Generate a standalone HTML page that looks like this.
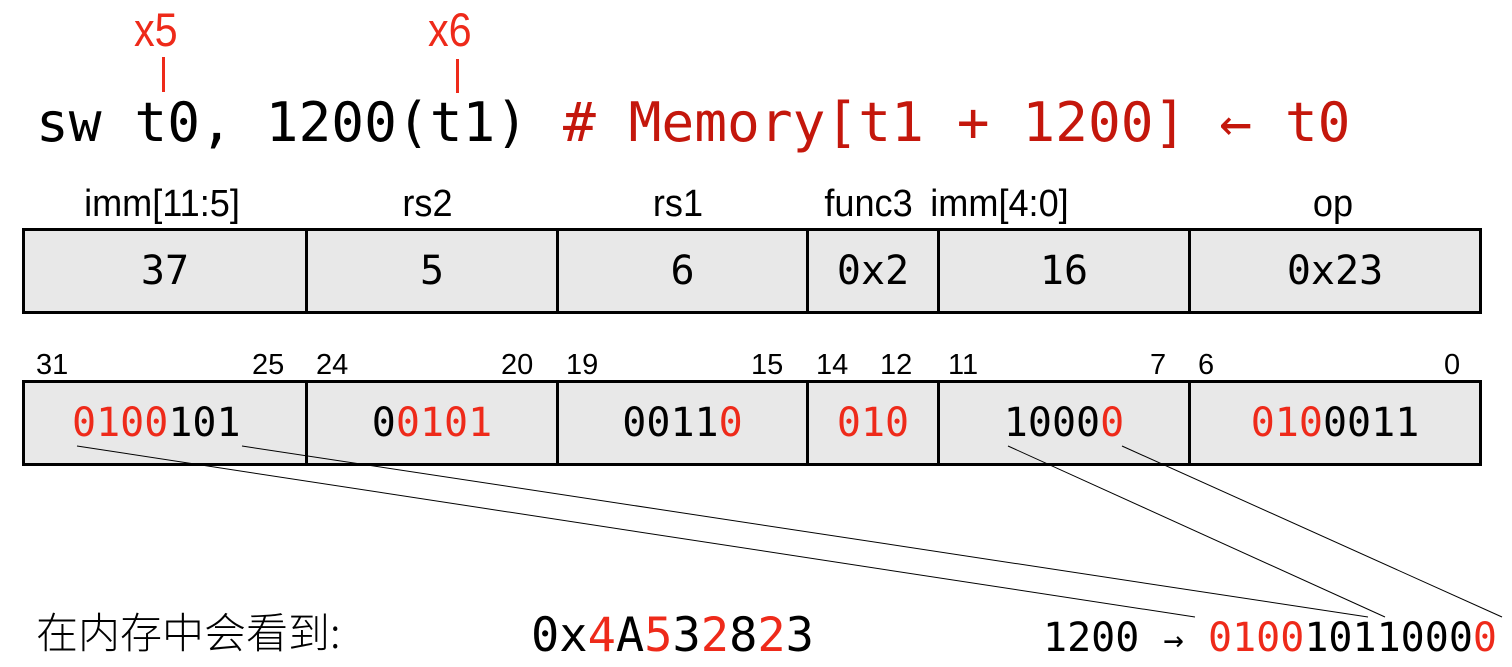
<!DOCTYPE html>
<html><head><meta charset="utf-8"><style>
body{margin:0;width:1512px;height:667px;background:#fff;position:relative;overflow:hidden;font-family:"Liberation Sans","Noto Sans CJK SC",sans-serif}
.a{position:absolute;white-space:nowrap;line-height:1}
.m{font-family:"DejaVu Sans Mono","Liberation Mono",monospace}
.r{color:#ee2a1a}
.dr{color:#c4170c}
.tbl{position:absolute;left:22px;width:1460px;height:86px;box-sizing:border-box;border:3px solid #000;background:#e8e8e8;display:flex}
.tbl div{box-sizing:border-box;border-left:3px solid #000;display:flex;align-items:center;justify-content:center;font-family:"DejaVu Sans Mono","Liberation Mono",monospace;font-size:40px}
.tbl div:first-child{border-left:none}
.h{position:absolute;top:183px;font-size:38px;text-align:center;transform:scaleX(0.95)}
.n{position:absolute;top:349px;font-size:29px}
</style></head><body>
<div class="a r" style="left:134px;top:6px;font-size:47px;transform:scaleX(.88);transform-origin:left">x5</div>
<div class="a r" style="left:428px;top:6px;font-size:47px;transform:scaleX(.88);transform-origin:left">x6</div>
<div class="a" style="left:162px;top:57px;width:3px;height:35px;background:#ee2a1a"></div>
<div class="a" style="left:456px;top:59px;width:3px;height:34px;background:#ee2a1a"></div>
<div class="a m" style="left:36px;top:95px;font-size:54.5px">sw t0, 1200(t1)</div>
<div class="a m dr" style="left:563px;top:95px;font-size:54.5px">#&nbsp;Memory[t1 + 1200] ← t0</div>

<div class="h" style="left:22px;width:280px">imm[11:5]</div>
<div class="h" style="left:302px;width:251px">rs2</div>
<div class="h" style="left:553px;width:250px">rs1</div>
<div class="h" style="left:803px;width:131px">func3</div>
<div class="h" style="left:934px;width:251px;transform:translateX(-60px) scaleX(.95)">imm[4:0]</div>
<div class="h" style="left:1185px;width:296px">op</div>

<div class="tbl" style="top:228px">
<div style="width:280px">37</div><div style="width:251px">5</div><div style="width:250px">6</div><div style="width:131px">0x2</div><div style="width:251px">16</div><div style="flex:1">0x23</div>
</div>

<div class="n" style="left:36px">31</div><div class="n" style="left:252px">25</div>
<div class="n" style="left:316px">24</div><div class="n" style="left:501px">20</div>
<div class="n" style="left:566px">19</div><div class="n" style="left:751px">15</div>
<div class="n" style="left:816px">14</div><div class="n" style="left:880px">12</div>
<div class="n" style="left:948px">11</div><div class="n" style="left:1150px">7</div>
<div class="n" style="left:1198px">6</div><div class="n" style="left:1444px">0</div>

<div class="tbl" style="top:380px">
<div style="width:280px;justify-content:flex-start;padding-left:47px"><span class="r">0100</span>101</div>
<div style="width:251px">0<span class="r">0101</span></div>
<div style="width:250px">0011<span class="r">0</span></div>
<div style="width:131px"><span class="r">010</span></div>
<div style="width:251px">1000<span class="r">0</span></div>
<div style="flex:1"><span class="r">010</span>0011</div>
</div>

<svg class="a" style="left:0;top:0" width="1512" height="667">
<g stroke="#000" stroke-width="1" fill="none">
<line x1="77" y1="446" x2="1195" y2="617"/>
<line x1="242" y1="446" x2="1368" y2="617"/>
<line x1="1008" y1="446" x2="1385" y2="617"/>
<line x1="1122" y1="446" x2="1502" y2="617"/>
</g>
</svg>

<div class="a" style="left:36px;top:610px;font-size:42px;font-family:'Noto Sans CJK SC',sans-serif;font-weight:300">在内存中会看到:</div>
<div class="a m" style="left:531px;top:612px;font-size:47px">0x<span class="r">4</span>A<span class="r">5</span>3<span class="r">2</span>8<span class="r">2</span>3</div>
<div class="a m" style="left:1043px;top:618px;font-size:40px">1200 <span style="font-size:34px">→</span> <span class="r">0100</span>1011000<span class="r">0</span></div>
</body></html>
